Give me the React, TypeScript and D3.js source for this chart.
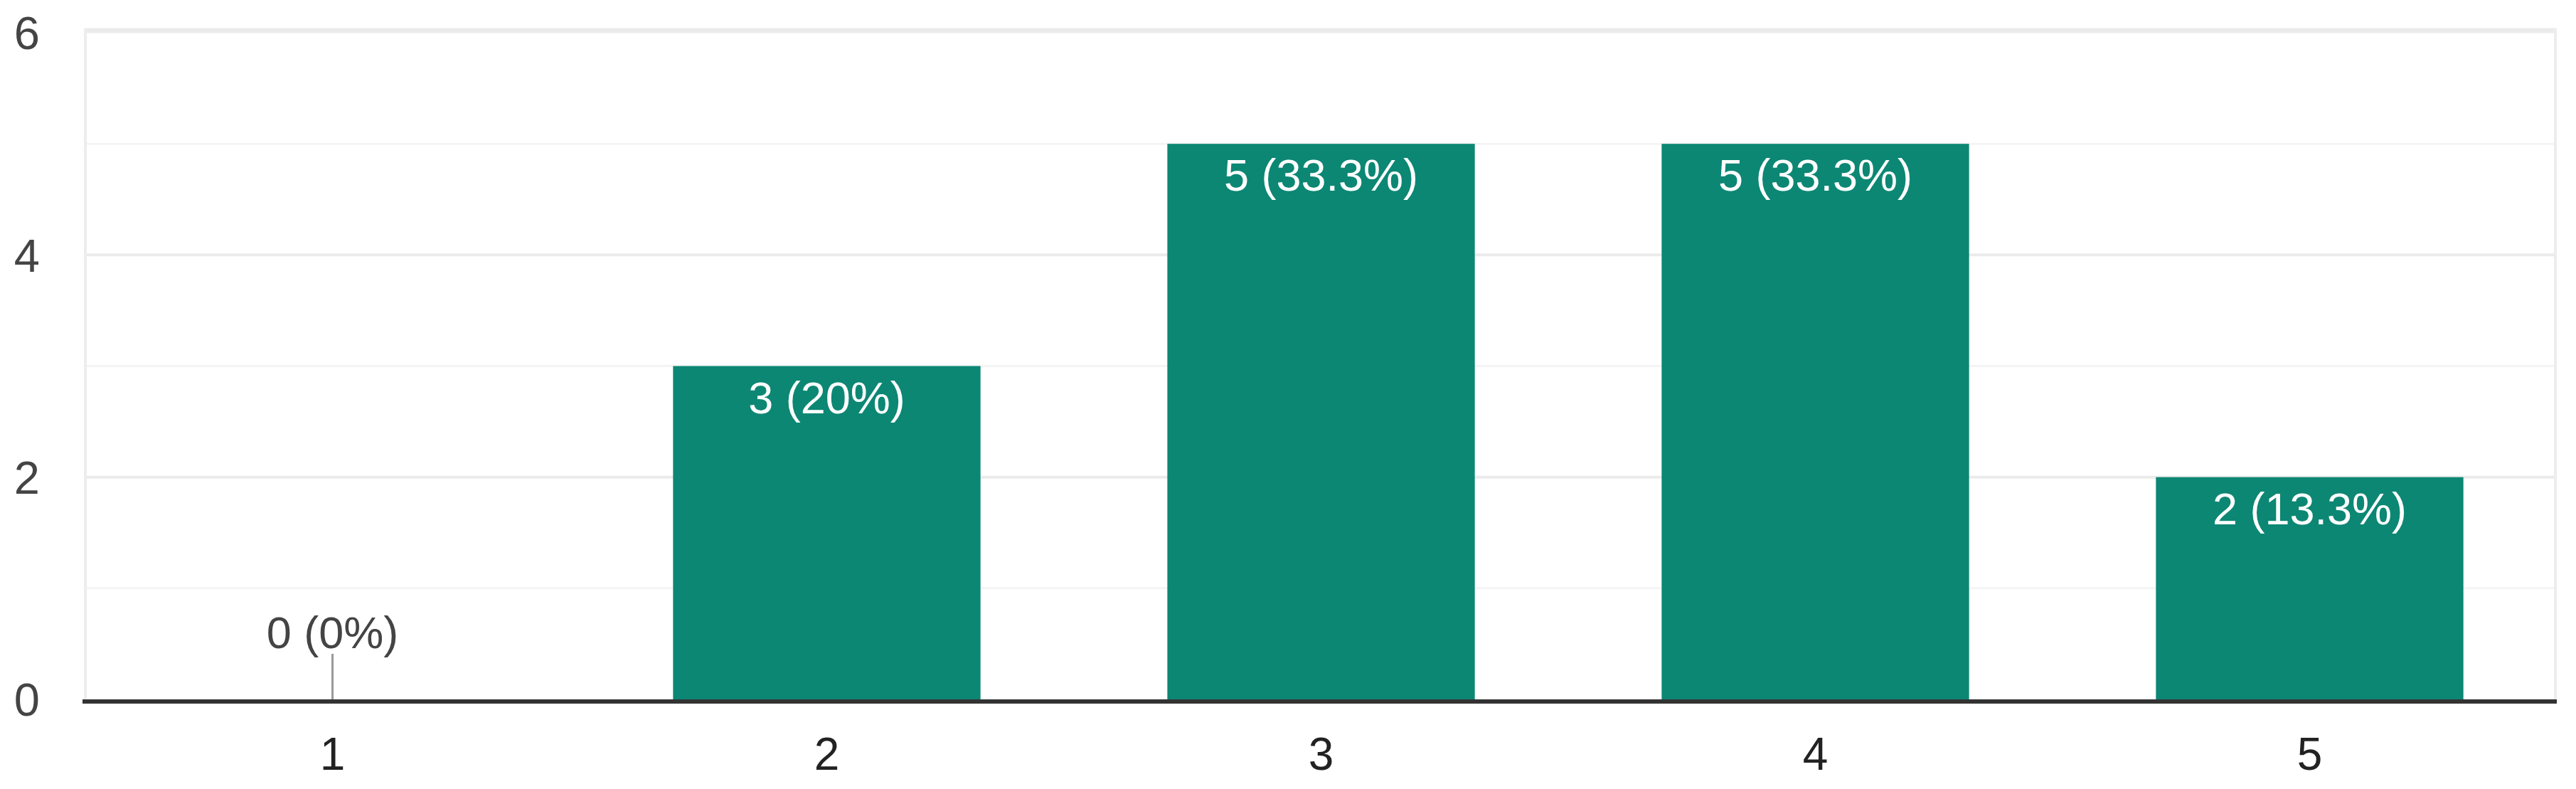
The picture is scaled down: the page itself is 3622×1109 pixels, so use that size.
import React from "react";
import * as d3 from "d3";

const categories = ["1", "2", "3", "4", "5"];
const counts = [0, 3, 5, 5, 2];
const percentLabels = ["0%", "20%", "33.3%", "33.3%", "13.3%"];
const majorTicks = [0, 2, 4, 6];
const minorTicks = [1, 3, 5];

const W = 3622;
const H = 1109;
const FONT = "'Liberation Sans', Arial, sans-serif";
const BAR = "#0c8774";

export default function App() {
  const x = d3
    .scaleBand<string>()
    .domain(categories)
    .range([120, 3595])
    .paddingInner(0.378)
    .paddingOuter(0.189);
  const y = d3.scaleLinear().domain([0, 6]).range([983, 46]);
  const [x0, x1] = x.range();

  return (
    <svg
      width={W}
      height={H}
      style={{ position: "absolute", left: 0, top: 0, background: "#fff" }}
    >
      <rect x={0} y={0} width={W} height={H} fill="#fff" />
      {minorTicks.map((t) => (
        <line key={"m" + t} x1={x0} x2={x1} y1={y(t)} y2={y(t)} stroke="#f4f4f4" strokeWidth={3} />
      ))}
      {majorTicks.filter((t) => t !== 0).map((t) => (
        <line
          key={"g" + t}
          x1={x0}
          x2={x1}
          y1={t === 6 ? y(t) - 3 : y(t)}
          y2={t === 6 ? y(t) - 3 : y(t)}
          stroke="#ebebeb"
          strokeWidth={t === 6 ? 7 : 4}
        />
      ))}
      <line x1={x0} x2={x0} y1={y(6) - 6} y2={y(0)} stroke="#ededed" strokeWidth={4} />
      <line x1={x1 - 2} x2={x1 - 2} y1={y(6) - 6} y2={y(0)} stroke="#ededed" strokeWidth={4} />
      {majorTicks.map((t) => (
        <text
          key={"yl" + t}
          x={56}
          y={y(t)}
          dy="0.36em"
          textAnchor="end"
          fontFamily={FONT}
          fontSize={65}
          fill="#444"
        >
          {t}
        </text>
      ))}
      {categories.map((c, i) => {
        const v = counts[i];
        const bx = x(c)!;
        const bw = x.bandwidth();
        const cx = bx + bw / 2;
        const label = `${v} (${percentLabels[i]})`;
        if (v === 0) {
          return (
            <g key={c}>
              <line x1={cx} x2={cx} y1={y(0)} y2={y(0) - 64} stroke="#999" strokeWidth={3} />
              <text x={cx} y={y(0) - 72} textAnchor="middle" fontFamily={FONT} fontSize={63} fill="#444">
                {label}
              </text>
            </g>
          );
        }
        return (
          <g key={c}>
            <rect x={bx} y={y(v)} width={bw} height={y(0) - y(v)} fill={BAR} />
            <text x={cx} y={y(v) + 66} textAnchor="middle" fontFamily={FONT} fontSize={63} fill="#fff">
              {label}
            </text>
          </g>
        );
      })}
      <line x1={x0 - 4} x2={x1} y1={y(0) + 3} y2={y(0) + 3} stroke="#333" strokeWidth={6} />
      {categories.map((c) => (
        <text
          key={"xl" + c}
          x={x(c)! + x.bandwidth() / 2}
          y={1082}
          textAnchor="middle"
          fontFamily={FONT}
          fontSize={64}
          fill="#222"
        >
          {c}
        </text>
      ))}
    </svg>
  );
}
